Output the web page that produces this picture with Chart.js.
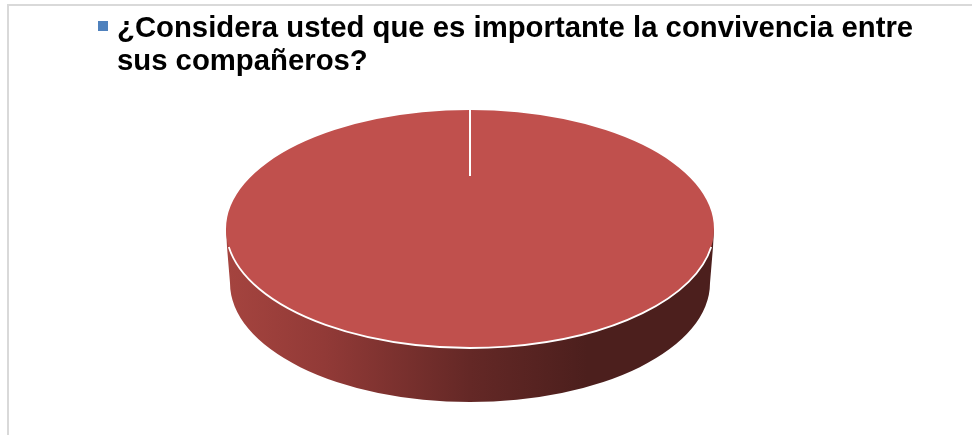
<!DOCTYPE html>
<html lang="es">
<head>
    <meta charset="UTF-8">
    <title>Convivencia entre compañeros</title>
    <script src="https://cdn.jsdelivr.net/npm/chart.js"></script>
    <style>
        html, body {
            margin: 0;
            padding: 0;
            background: #ffffff;
            overflow: hidden;
        }

        #wrap {
            position: relative;
            width: 972px;
            height: 435px;
        }

        /* Frame only shows on the top and left sides */
        #frame {
            position: absolute;
            left: 7px;
            top: 4px;
            right: -5px;
            bottom: -5px;
            border: 2.5px solid #d9d9d9;
        }

        #dataChart {
            position: absolute;
            left: 0;
            top: 0;
        }

        #legend-marker {
            position: absolute;
            left: 98px;
            top: 21px;
            width: 10px;
            height: 10px;
        }

        #legend-text {
            position: absolute;
            left: 117px;
            top: 10px;
            width: 810px;
            font: bold 29.3px/33px "Liberation Sans", Arial, sans-serif;
            color: #000000;
        }
    </style>
</head>
<body>
    <div id="wrap">
        <div id="frame"></div>
        <canvas id="dataChart" width="972" height="435"></canvas>
        <div id="legend-marker"></div>
        <div id="legend-text"></div>
    </div>

    <script>
        // Chart data
        const categories = ["¿Considera usted que es importante la convivencia entre sus compañeros?", "Otros"];
        const values = [0, 100];
        const sliceColors = ["#4f81bd", "#c0504d"];

        // Tilted disc look
        const faceRx = 244;
        const faceRy = 119;
        const wallDepth = 54;
        const wallRx = 240;
        const seamLength = 0.445;

        document.getElementById("legend-marker").style.background = sliceColors[0];
        document.getElementById("legend-text").textContent = categories[0];

        // Squashes the pie into an ellipse and draws the side wall under it
        const tiltPlugin = {
            id: "tilt",
            beforeDatasetsDraw(chart) {
                const ctx = chart.ctx;
                const arc = chart.getDatasetMeta(0).data[1];
                const cx = arc.x;
                const cy = arc.y;
                const r = arc.outerRadius;
                const shoulder = 18;

                // side wall
                const grad = ctx.createLinearGradient(cx - faceRx, 0, cx + faceRx, 0);
                grad.addColorStop(0, "#a5443f");
                grad.addColorStop(0.2, "#923a37");
                grad.addColorStop(0.5, "#642826");
                grad.addColorStop(0.74, "#4c1f1d");
                grad.addColorStop(1, "#4c1f1d");

                ctx.save();
                ctx.beginPath();
                ctx.moveTo(cx - faceRx, cy);
                ctx.lineTo(cx - faceRx + 1, cy + shoulder);
                ctx.lineTo(cx - wallRx, cy + wallDepth);
                ctx.ellipse(cx, cy + wallDepth, wallRx, faceRy, 0, Math.PI, 0, true);
                ctx.lineTo(cx + faceRx - 1, cy + shoulder);
                ctx.lineTo(cx + faceRx, cy);
                ctx.closePath();
                ctx.fillStyle = grad;
                ctx.fill();
                ctx.restore();

                // everything the pie draws next lands on the ellipse
                ctx.save();
                ctx.translate(cx, cy);
                ctx.scale(faceRx / r, faceRy / r);
                ctx.translate(-cx, -cy);
            },
            afterDatasetsDraw(chart) {
                const ctx = chart.ctx;
                ctx.restore();

                const arc = chart.getDatasetMeta(0).data[0];
                const cx = arc.x;
                const cy = arc.y;
                const edgeAngle = 0.152;

                // white rim along the front of the face
                ctx.save();
                ctx.strokeStyle = "#ffffff";
                ctx.lineWidth = 1.8;
                ctx.beginPath();
                ctx.ellipse(cx, cy, faceRx, faceRy, 0, Math.PI - edgeAngle, edgeAngle, true);
                ctx.stroke();

                // seam left by the empty slice at its start angle
                const dx = Math.cos(arc.startAngle);
                const dy = Math.sin(arc.startAngle);
                ctx.lineWidth = 2;
                ctx.beginPath();
                ctx.moveTo(cx + dx * faceRx, cy + dy * faceRy);
                ctx.lineTo(cx + dx * faceRx * seamLength, cy + dy * faceRy * seamLength);
                ctx.stroke();
                ctx.restore();
            }
        };

        let ctx = document.getElementById("dataChart").getContext("2d");
        let dataChart = new Chart(ctx, {
            type: "pie",
            data: {
                labels: categories,
                datasets: [{
                    data: values,
                    backgroundColor: sliceColors,
                    borderWidth: 0
                }]
            },
            options: {
                responsive: false,
                animation: false,
                layout: {
                    padding: { left: 0, right: 32, top: 23, bottom: 0 }
                },
                plugins: {
                    legend: { display: false },
                    tooltip: { enabled: false }
                }
            },
            plugins: [tiltPlugin]
        });
    </script>
</body>
</html>
